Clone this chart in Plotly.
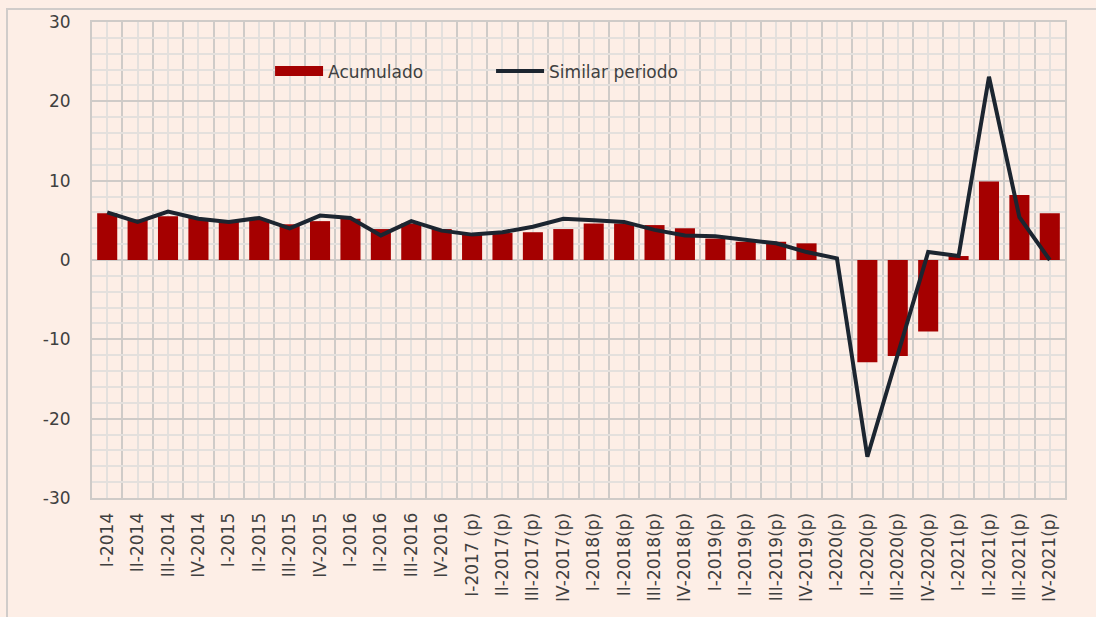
import plotly.graph_objects as go

BG = '#FDEEE6'
COLOR_BAR = '#A50000'
COLOR_LINE = '#1C2530'
GRID_MAJOR = '#CFCBC8'
GRID_MINOR = '#E4E0DD'
FONT = 'DejaVu Sans'

periodos = [
    'I-2014', 'II-2014', 'III-2014', 'IV-2014',
    'I-2015', 'II-2015', 'III-2015', 'IV-2015',
    'I-2016', 'II-2016', 'III-2016', 'IV-2016',
    'I-2017 (p)', 'II-2017(p)', 'III-2017(p)', 'IV-2017(p)',
    'I-2018(p)', 'II-2018(p)', 'III-2018(p)', 'IV-2018(p)',
    'I-2019(p)', 'II-2019(p)', 'III-2019(p)', 'IV-2019(p)',
    'I-2020(p)', 'II-2020(p)', 'III-2020(p)', 'IV-2020(p)',
    'I-2021(p)', 'II-2021(p)', 'III-2021(p)', 'IV-2021(p)',
]

acumulado = [
    5.9, 5.1, 5.5, 5.3,
    4.9, 5.1, 4.5, 4.9,
    5.2, 3.9, 4.6, 3.9,
    3.4, 3.4, 3.5, 3.9,
    4.6, 4.6, 4.4, 4.0,
    2.7, 2.3, 2.3, 2.1,
    0.0, -12.9, -12.1, -9.0,
    0.5, 9.9, 8.2, 5.9,
]

similar_periodo = [
    6.0, 4.8, 6.1, 5.2,
    4.8, 5.3, 4.0, 5.6,
    5.3, 3.1, 4.9, 3.7,
    3.2, 3.5, 4.2, 5.2,
    5.0, 4.8, 3.8, 3.1,
    3.0, 2.6, 2.1, 1.0,
    0.2, -24.8, -11.8, 1.0,
    0.5, 23.1, 5.4, 0.0,
]

y_ticks = [-30, -20, -10, 0, 10, 20, 30]

idx = list(range(len(periodos)))

fig = go.Figure()
fig.add_trace(go.Bar(
    name='Acumulado',
    x=idx,
    y=acumulado,
    marker_color=COLOR_BAR,
    marker_line_width=0,
    showlegend=False,
))
# entrada de leyenda con símbolo rectangular ancho, como en Excel
fig.add_trace(go.Scatter(
    name='Acumulado',
    x=[None], y=[None],
    mode='lines',
    line=dict(color=COLOR_BAR, width=10),
))
fig.add_trace(go.Scatter(
    name='Similar periodo',
    x=idx,
    y=similar_periodo,
    mode='lines',
    line=dict(color=COLOR_LINE, width=4),
))

fig.update_layout(
    width=1096,
    height=617,
    paper_bgcolor=BG,
    plot_bgcolor=BG,
    font=dict(family=FONT, color='#404040'),
    bargap=0.34,
    margin=dict(t=18, b=119, l=92, r=31),
    legend=dict(
        orientation='h', x=0.183, y=0.896, xanchor='left', yanchor='middle',
        bgcolor='rgba(0,0,0,0)', font=dict(size=17, color='#404040'),
        entrywidth=158, itemwidth=48,
    ),
    xaxis=dict(
        range=[-0.5, len(periodos) - 0.5],
        tickmode='array', tickvals=idx, ticktext=periodos,
        tickangle=-90, tickfont=dict(size=17, color='#404040'),
        showgrid=True, gridcolor=GRID_MINOR, gridwidth=2,
        minor=dict(tick0=-0.5, dtick=1, showgrid=True, gridcolor=GRID_MAJOR, gridwidth=2),
        zeroline=False,
        ticks='outside', ticklen=6, tickcolor='rgba(0,0,0,0)',
        showline=True, linecolor=GRID_MAJOR, linewidth=2, mirror=True,
    ),
    yaxis=dict(
        range=[-30, 30],
        tickmode='array', tickvals=y_ticks, ticktext=[str(v) for v in y_ticks],
        tickfont=dict(size=17, color='#404040'),
        showgrid=True, gridcolor=GRID_MAJOR, gridwidth=2,
        minor=dict(tick0=0, dtick=2, showgrid=True, gridcolor=GRID_MINOR, gridwidth=2),
        zeroline=True, zerolinecolor=GRID_MAJOR, zerolinewidth=2,
        ticks='outside', ticklen=16, tickcolor='rgba(0,0,0,0)',
        showline=True, linecolor=GRID_MAJOR, linewidth=2, mirror=True,
    ),
)

# marco exterior del gráfico
fig.add_shape(
    type='rect', xref='paper', yref='paper',
    x0=(7 - 92) / 973, x1=(1110 - 92) / 973,
    y0=(498 - 640) / 480, y1=(498 - 5) / 480,
    line=dict(color='#D0CCCA', width=2), fillcolor='rgba(0,0,0,0)', layer='below',
)

fig.write_html(
    'out.html',
    config={'displayModeBar': False},
    post_script="document.body.style.margin='0';document.body.style.background='#FDEEE6';",
)
